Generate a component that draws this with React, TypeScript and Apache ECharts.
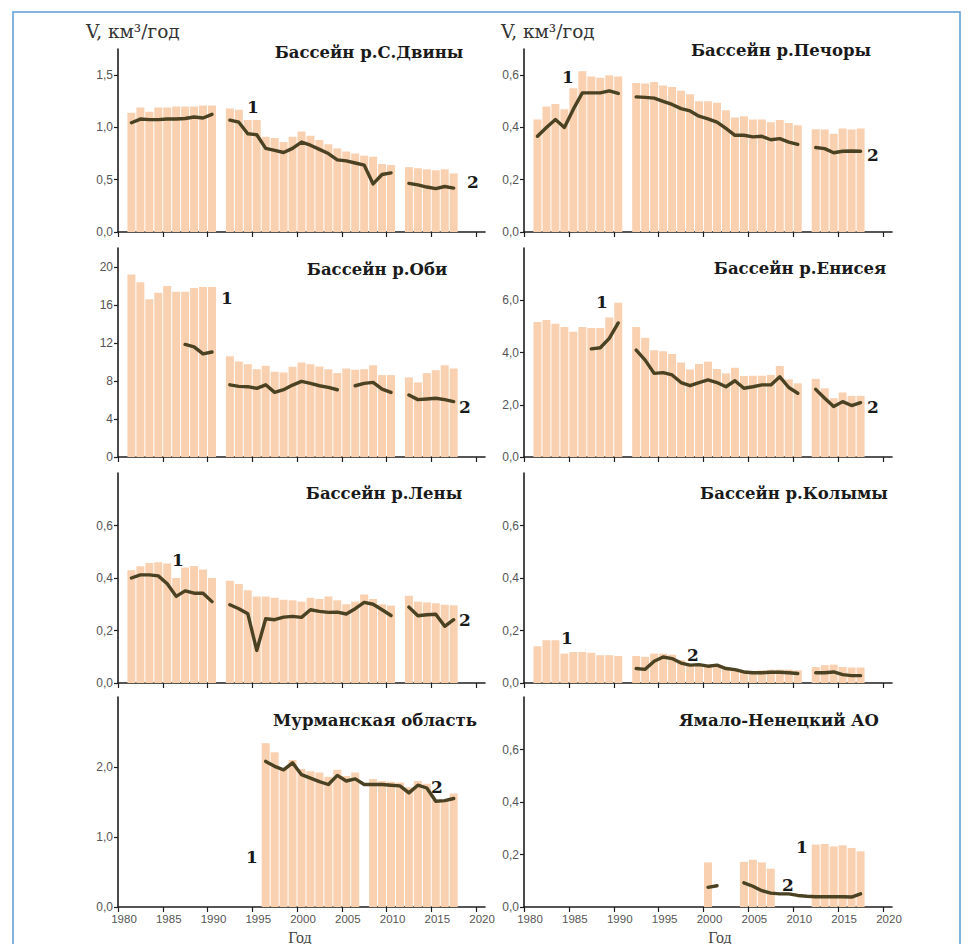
import React, { useEffect, useRef } from "react";
import * as echarts from "echarts";

const _ = null;

const YEARS = [
  1981, 1982, 1983, 1984, 1985, 1986, 1987, 1988, 1989, 1990,
  1991, 1992, 1993, 1994, 1995, 1996, 1997, 1998, 1999, 2000,
  2001, 2002, 2003, 2004, 2005, 2006, 2007, 2008, 2009, 2010,
  2011, 2012, 2013, 2014, 2015, 2016, 2017,
];
const X_TICKS = [1980, 1985, 1990, 1995, 2000, 2005, 2010, 2015, 2020];

// ---- values per panel, 1981..2017 ----
const DVINA_BARS = [
  1.14, 1.19, 1.15, 1.19, 1.19, 1.2, 1.2, 1.2, 1.21, 1.21, _,
  1.18, 1.17, 1.07, 1.07, 0.91, 0.9, 0.86, 0.91, 0.96, 0.92, 0.88, 0.84, 0.8, 0.77, 0.75, 0.73, 0.72, 0.65, 0.64, _,
  0.62, 0.61, 0.6, 0.59, 0.6, 0.56,
];
const DVINA_LINE = [
  1.045, 1.08, 1.075, 1.075, 1.08, 1.08, 1.085, 1.1, 1.09, 1.125, _,
  1.07, 1.05, 0.94, 0.93, 0.8, 0.78, 0.76, 0.8, 0.86, 0.83, 0.79, 0.75, 0.69, 0.68, 0.66, 0.64, 0.46, 0.55, 0.565, _,
  0.465, 0.45, 0.43, 0.415, 0.435, 0.42,
];
const PECHORA_BARS = [
  0.43, 0.48, 0.49, 0.47, 0.55, 0.615, 0.595, 0.59, 0.6, 0.595, _,
  0.57, 0.568, 0.574, 0.56, 0.555, 0.54, 0.527, 0.5, 0.5, 0.494, 0.466, 0.438, 0.443, 0.43, 0.43, 0.42, 0.428, 0.417, 0.408, _,
  0.393, 0.392, 0.376, 0.396, 0.392, 0.396,
];
const PECHORA_LINE = [
  0.366, 0.4, 0.43, 0.4, 0.47, 0.532, 0.532, 0.532, 0.54, 0.53, _,
  0.517, 0.515, 0.512, 0.5, 0.488, 0.472, 0.463, 0.443, 0.433, 0.42, 0.396, 0.37, 0.37, 0.364, 0.366, 0.353, 0.357, 0.344, 0.335, _,
  0.323, 0.319, 0.303, 0.309, 0.31, 0.309,
];
const OB_BARS = [
  19.2, 18.4, 16.6, 17.3, 18.0, 17.4, 17.4, 17.8, 17.9, 17.9, _,
  10.6, 10.05, 9.77, 9.25, 9.6, 8.97, 8.9, 9.5, 9.95, 9.77, 9.53, 9.25, 8.83, 9.32, 9.18, 9.25, 9.67, 8.62, 8.62, _,
  8.38, 7.85, 8.83, 9.14, 9.67, 9.32,
];
const OB_LINE = [
  _, _, _, _, _, _, 11.85, 11.6, 10.85, 11.05, _,
  7.6, 7.43, 7.4, 7.23, 7.6, 6.8, 7.08, 7.57, 7.96, 7.75, 7.5, 7.33, 7.08, _, 7.5, 7.75, 7.85, 7.15, 6.8, _,
  6.53, 6.04, 6.1, 6.18, 6.04, 5.83,
];
const YENISEI_BARS = [
  5.17, 5.24, 5.1, 4.98, 4.79, 4.98, 4.94, 4.94, 5.34, 5.9, _,
  4.98, 4.56, 4.09, 4.05, 3.94, 3.62, 3.35, 3.56, 3.65, 3.37, 3.2, 3.42, 3.1, 3.11, 3.11, 3.14, 3.48, 2.97, 2.82, _,
  2.99, 2.63, 2.25, 2.47, 2.34, 2.34,
];
const YENISEI_LINE = [
  _, _, _, _, _, _, 4.14, 4.18, 4.54, 5.13, _,
  4.09, 3.71, 3.2, 3.23, 3.14, 2.85, 2.73, 2.85, 2.95, 2.85, 2.69, 2.92, 2.63, 2.69, 2.76, 2.76, 3.07, 2.66, 2.44, _,
  2.59, 2.25, 1.93, 2.12, 1.97, 2.08,
];
const LENA_BARS = [
  0.43, 0.445, 0.457, 0.46, 0.455, 0.4, 0.44, 0.446, 0.432, 0.4, _,
  0.39, 0.377, 0.353, 0.33, 0.33, 0.325, 0.317, 0.315, 0.31, 0.325, 0.32, 0.33, 0.315, 0.3, 0.31, 0.337, 0.32, 0.3, 0.295, _,
  0.332, 0.31, 0.307, 0.304, 0.298, 0.296,
];
const LENA_LINE = [
  0.4, 0.412, 0.412, 0.408, 0.378, 0.33, 0.351, 0.342, 0.342, 0.31, _,
  0.298, 0.283, 0.264, 0.124, 0.245, 0.241, 0.251, 0.254, 0.25, 0.279, 0.273, 0.269, 0.27, 0.263, 0.283, 0.307, 0.3, 0.279, 0.257, _,
  0.289, 0.256, 0.26, 0.262, 0.216, 0.241,
];
const KOLYMA_BARS = [
  0.14, 0.163, 0.163, 0.112, 0.118, 0.118, 0.115, 0.106, 0.106, 0.103, _,
  0.103, 0.1, 0.112, 0.112, 0.108, 0.087, 0.071, 0.071, 0.065, 0.068, 0.061, 0.055, 0.048, 0.046, 0.048, 0.051, 0.051, 0.051, 0.048, _,
  0.061, 0.068, 0.07, 0.061, 0.059, 0.059,
];
const KOLYMA_LINE = [
  _, _, _, _, _, _, _, _, _, _, _,
  0.055, 0.052, 0.083, 0.099, 0.093, 0.076, 0.068, 0.07, 0.064, 0.068, 0.055, 0.051, 0.042, 0.039, 0.039, 0.041, 0.041, 0.039, 0.036, _,
  0.039, 0.039, 0.042, 0.032, 0.028, 0.028,
];
const MURMANSK_BARS = [
  _, _, _, _, _, _, _, _, _, _, _, _, _, _, _,
  2.34, 2.21, 1.98, 2.1, 1.97, 1.94, 1.92, 1.86, 1.96, 1.87, 1.92, _,
  1.83, 1.8, 1.79, 1.78, 1.71, 1.8, 1.76, 1.53, 1.52, 1.62,
];
const MURMANSK_LINE = [
  _, _, _, _, _, _, _, _, _, _, _, _, _, _, _,
  2.08, 2.01, 1.96, 2.06, 1.89, 1.84, 1.79, 1.75, 1.88, 1.8, 1.83, 1.75,
  1.75, 1.75, 1.74, 1.73, 1.63, 1.74, 1.7, 1.51, 1.52, 1.55,
];
const YAMAL_BARS = [
  _, _, _, _, _, _, _, _, _, _, _, _, _, _, _, _, _, _, _,
  0.17, _, _, _, 0.172, 0.18, 0.17, 0.146, _, _, _, _,
  0.238, 0.24, 0.231, 0.235, 0.225, 0.212,
];
const YAMAL_LINE = [
  _, _, _, _, _, _, _, _, _, _, _, _, _, _, _, _, _, _, _,
  0.075, 0.081, _, _, 0.092, 0.079, 0.062, 0.053, 0.05, 0.05, 0.044, 0.041,
  0.039, 0.039, 0.039, 0.039, 0.038, 0.05,
];

// ---- y-axis tick values ----
const TICKS_DVINA = [0, 0.5, 1.0, 1.5];
const TICKS_PECHORA = [0, 0.2, 0.4, 0.6];
const TICKS_OB = [0, 4, 8, 12, 16, 20];
const TICKS_YENISEI = [0, 2, 4, 6];
const TICKS_SMALL = [0, 0.2, 0.4, 0.6];
const TICKS_MURMANSK = [0, 1, 2];

// ---- layout ----
const COL_LEFT = [118, 524];
const COL_W = [367, 368];
const ROW_TOP = [49, 248, 473, 697];
const ROW_H = [183, 209, 210, 210];

const BAR_COLOR = "#F9D1B1";
const LINE_COLOR = "#4A4222";
const AXIS_COLOR = "#1e1e1e";

type Panel = {
  title: string;
  col: number;
  row: number;
  max: number;
  ticks: number[];
  dec: number;
  bars: (number | null)[];
  line: (number | null)[];
  tx: number;
  ty: number;
  marks: { t: string; x: number; y: number }[];
};

const PANELS: Panel[] = [
  { title: "Бассейн р.С.Двины", col: 0, row: 0, max: 1.75, ticks: TICKS_DVINA, dec: 1, bars: DVINA_BARS, line: DVINA_LINE, tx: 369, ty: 52,
    marks: [{ t: "1", x: 253, y: 107 }, { t: "2", x: 473, y: 182 }] },
  { title: "Бассейн р.Печоры", col: 1, row: 0, max: 0.7, ticks: TICKS_PECHORA, dec: 1, bars: PECHORA_BARS, line: PECHORA_LINE, tx: 781, ty: 50,
    marks: [{ t: "1", x: 568, y: 77 }, { t: "2", x: 873, y: 155 }] },
  { title: "Бассейн р.Оби", col: 0, row: 1, max: 22, ticks: TICKS_OB, dec: 0, bars: OB_BARS, line: OB_LINE, tx: 377, ty: 269,
    marks: [{ t: "1", x: 227, y: 298 }, { t: "2", x: 465, y: 407 }] },
  { title: "Бассейн р.Енисея", col: 1, row: 1, max: 8, ticks: TICKS_YENISEI, dec: 1, bars: YENISEI_BARS, line: YENISEI_LINE, tx: 800, ty: 268,
    marks: [{ t: "1", x: 602, y: 302 }, { t: "2", x: 873, y: 407 }] },
  { title: "Бассейн р.Лены", col: 0, row: 2, max: 0.8, ticks: TICKS_SMALL, dec: 1, bars: LENA_BARS, line: LENA_LINE, tx: 384, ty: 493,
    marks: [{ t: "1", x: 178, y: 560 }, { t: "2", x: 465, y: 620 }] },
  { title: "Бассейн р.Колымы", col: 1, row: 2, max: 0.8, ticks: TICKS_SMALL, dec: 1, bars: KOLYMA_BARS, line: KOLYMA_LINE, tx: 794, ty: 493,
    marks: [{ t: "1", x: 567, y: 638 }, { t: "2", x: 693, y: 655 }] },
  { title: "Мурманская область", col: 0, row: 3, max: 3, ticks: TICKS_MURMANSK, dec: 1, bars: MURMANSK_BARS, line: MURMANSK_LINE, tx: 375, ty: 720,
    marks: [{ t: "1", x: 252, y: 857 }, { t: "2", x: 437, y: 787 }] },
  { title: "Ямало-Ненецкий АО", col: 1, row: 3, max: 0.8, ticks: TICKS_SMALL, dec: 1, bars: YAMAL_BARS, line: YAMAL_LINE, tx: 779, ty: 720,
    marks: [{ t: "1", x: 802, y: 847 }, { t: "2", x: 788, y: 885 }] },
];

const fmt = (v: number, d: number) => v.toFixed(d).replace(".", ",");

export default function App() {
  const ref = useRef<HTMLDivElement>(null);

  useEffect(() => {
    if (!ref.current) return;
    const chart = echarts.init(ref.current, null, { renderer: "svg" });
    const grid: any[] = [];
    const xAxis: any[] = [];
    const yAxis: any[] = [];
    const series: any[] = [];
    const graphic: any[] = [];

    graphic.push({
      type: "rect",
      shape: { x: 13, y: 12, width: 947, height: 1000 },
      style: { fill: "none", stroke: "#5B9BD5", lineWidth: 1.5 },
      silent: true,
    });

    PANELS.forEach((p, i) => {
      const bottom = p.row === 3;
      grid.push({ left: COL_LEFT[p.col], top: ROW_TOP[p.row], width: COL_W[p.col], height: ROW_H[p.row] });
      xAxis.push({
        gridIndex: i,
        type: "value",
        min: 1980,
        max: 2021,
        axisLine: { show: true, onZero: false, lineStyle: { color: AXIS_COLOR, width: 1.6 } },
        axisTick: { show: true, customValues: X_TICKS, length: 5, lineStyle: { color: AXIS_COLOR, width: 1.2 } },
        axisLabel: {
          show: bottom,
          customValues: X_TICKS,
          formatter: (v: number) => String(Math.round(v)),
          color: "#555",
          fontSize: 11.5,
          fontFamily: "Liberation Sans, Arial, sans-serif",
          margin: 6,
          padding: [0, 0, 0, 12],
        },
        splitLine: { show: false },
      });
      yAxis.push({
        gridIndex: i,
        type: "value",
        min: 0,
        max: p.max,
        axisLine: { show: true, lineStyle: { color: AXIS_COLOR, width: 1.6 } },
        axisTick: { show: true, customValues: p.ticks, length: 4, lineStyle: { color: AXIS_COLOR, width: 1.2 } },
        axisLabel: {
          customValues: p.ticks,
          formatter: (v: number) => fmt(v, p.dec),
          color: "#555",
          fontSize: 12,
          fontFamily: "Liberation Sans, Arial, sans-serif",
          margin: 5,
        },
        splitLine: { show: false },
      });
      series.push({
        type: "bar",
        xAxisIndex: i,
        yAxisIndex: i,
        barWidth: 8,
        itemStyle: { color: BAR_COLOR },
        silent: true,
        data: YEARS.map((y, k) => [y + 0.5, p.bars[k] == null ? "-" : p.bars[k]]),
      });
      series.push({
        type: "line",
        xAxisIndex: i,
        yAxisIndex: i,
        symbol: "none",
        showSymbol: false,
        connectNulls: false,
        silent: true,
        lineStyle: { color: LINE_COLOR, width: 3.4, cap: "round", join: "round" },
        data: YEARS.map((y, k) => [y + 0.5, p.line[k] == null ? "-" : p.line[k]]),
      });

      graphic.push({
        type: "text",
        x: p.tx,
        y: p.ty,
        silent: true,
        style: {
          text: p.title,
          textAlign: "center",
          textVerticalAlign: "middle",
          fontFamily: "DejaVu Serif",
          fontWeight: "bold",
          fontSize: 16.5,
          fill: "#1a1a1a",
        },
      });
      p.marks.forEach((m) =>
        graphic.push({
          type: "text",
          x: m.x,
          y: m.y,
          silent: true,
          style: {
            text: m.t,
            textAlign: "center",
            textVerticalAlign: "middle",
            fontFamily: "DejaVu Serif",
            fontWeight: "bold",
            fontSize: 17,
            fill: "#1a1a1a",
          },
        })
      );
    });

    // axis unit labels above the top panels
    [{ x: 86, y: 31 }, { x: 501, y: 31 }].forEach((pos) =>
      graphic.push({
        type: "text",
        x: pos.x,
        y: pos.y,
        silent: true,
        style: {
          text: "V, км³/год",
          textAlign: "left",
          textVerticalAlign: "middle",
          fontFamily: "DejaVu Serif",
          fontSize: 18.5,
          fill: "#333",
        },
      })
    );
    // x-axis titles
    [{ x: 300, y: 937 }, { x: 720, y: 937 }].forEach((pos) =>
      graphic.push({
        type: "text",
        x: pos.x,
        y: pos.y,
        silent: true,
        style: {
          text: "Год",
          textAlign: "center",
          textVerticalAlign: "middle",
          fontFamily: "Liberation Serif",
          fontSize: 16,
          fill: "#444",
        },
      })
    );

    chart.setOption({
      animation: false,
      backgroundColor: "#ffffff",
      grid,
      xAxis,
      yAxis,
      series,
      graphic,
    });
    return () => chart.dispose();
  }, []);

  return (
    <div
      ref={ref}
      style={{ position: "fixed", left: 0, top: 0, width: 973, height: 944, background: "#fff" }}
    />
  );
}
